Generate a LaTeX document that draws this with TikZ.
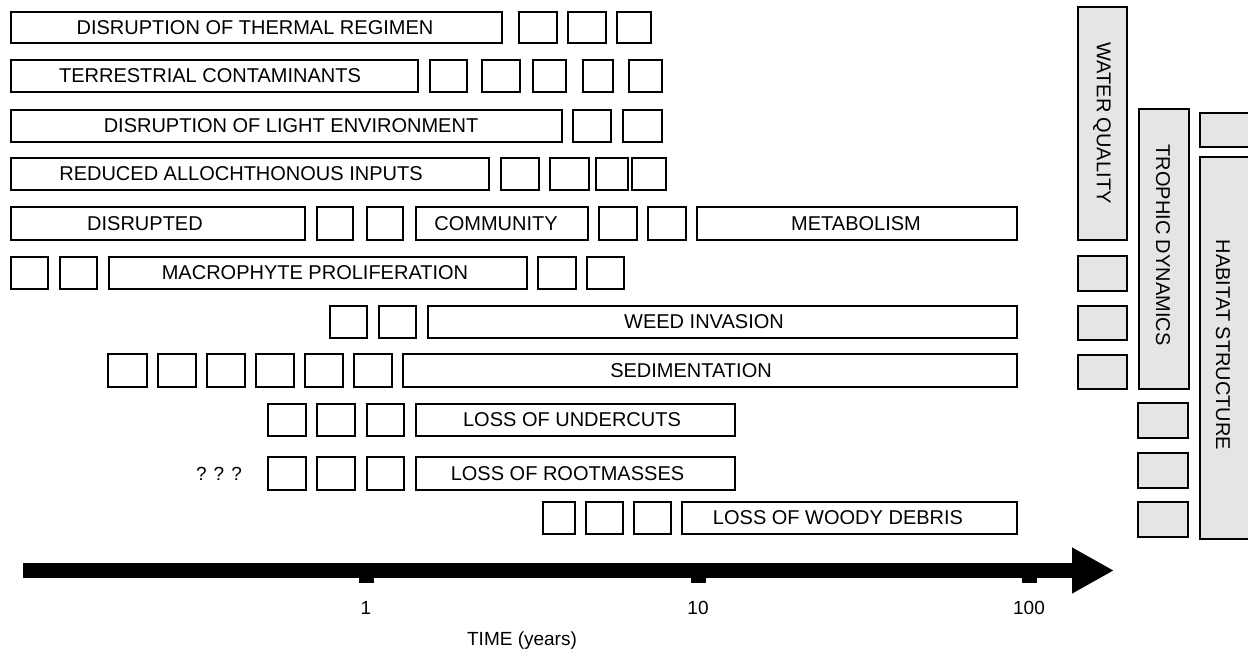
\documentclass[tikz,border=0pt]{standalone}
\usepackage{fontspec}
\setmainfont{Liberation Sans}
\usetikzlibrary{arrows.meta}

\begin{document}
\begin{tikzpicture}[x=1pt,y=-1pt,
    box/.style={draw=black,line width=1.4pt},
    gbox/.style={draw=black,fill=black!10,line width=1.8pt},
    lab/.style={font=\fontsize{20}{24}\selectfont,inner sep=0pt},
    vlab/.style={lab,rotate=-90}]
  \useasboundingbox (0,0) rectangle (1248,654);
  \clip (0,0) rectangle (1248,654);
  % row 1
  \draw[box] (11,12) rectangle (502,43);
  \node[lab] (thermal) at (255,27.5) {DISRUPTION OF THERMAL REGIMEN};
  \foreach \a/\b in {519/557,568/606,617/651} \draw[box] (\a,12) rectangle (\b,43);
  % row 2
  \draw[box] (11,60) rectangle (418,92);
  \node[lab] (contam) at (210,76) {TERRESTRIAL CONTAMINANTS};
  \foreach \a/\b in {430/467,482/520,533/566,583/613,629/662} \draw[box] (\a,60) rectangle (\b,92);
  % row 3
  \draw[box] (11,110) rectangle (562,142);
  \node[lab] (light) at (291,126) {DISRUPTION OF LIGHT ENVIRONMENT};
  \foreach \a/\b in {573/611,623/662} \draw[box] (\a,110) rectangle (\b,142);
  % row 4
  \draw[box] (11,158) rectangle (489,190);
  \node[lab] (inputs) at (241,174) {REDUCED ALLOCHTHONOUS INPUTS};
  \foreach \a/\b in {501/539,550/589,596/628,632/666} \draw[box] (\a,158) rectangle (\b,190);
  % row 5
  \draw[box] (11,207) rectangle (305,240);
  \node[lab] (disrupted) at (145,223.5) {DISRUPTED};
  \draw[box] (416,207) rectangle (588,240);
  \node[lab] (community) at (496,223.5) {COMMUNITY};
  \draw[box] (697,207) rectangle (1017,240);
  \node[lab] (metab) at (856,223.5) {METABOLISM};
  \foreach \a/\b in {317/353,367/403,599/637,648/686} \draw[box] (\a,207) rectangle (\b,240);
  % row 6
  \draw[box] (109,257) rectangle (527,289);
  \node[lab] (macro) at (315,273) {MACROPHYTE PROLIFERATION};
  \foreach \a/\b in {11/48,60/97,538/576,587/624} \draw[box] (\a,257) rectangle (\b,289);
  % row 7
  \draw[box] (428,306) rectangle (1017,338);
  \node[lab] (weed) at (704,322) {WEED INVASION};
  \foreach \a/\b in {330/367,379/416} \draw[box] (\a,306) rectangle (\b,338);
  % row 8
  \draw[box] (403,354) rectangle (1017,387);
  \node[lab] (sediment) at (691,370.5) {SEDIMENTATION};
  \foreach \a/\b in {108/147,158/196,207/245,256/294,305/343,354/392} \draw[box] (\a,354) rectangle (\b,387);
  % row 9
  \draw[box] (416,404) rectangle (735,436);
  \node[lab] (undercut) at (572,420) {LOSS OF UNDERCUTS};
  \foreach \a/\b in {268/306,317/355,367/404} \draw[box] (\a,404) rectangle (\b,436);
  % row 10
  \node[lab,font=\fontsize{19}{22}\selectfont] (unknown) at (219,473.5) {? ? ?};
  \draw[box] (416,457) rectangle (735,490);
  \node[lab] (roots) at (567.5,473.5) {LOSS OF ROOTMASSES};
  \foreach \a/\b in {268/306,317/355,367/404} \draw[box] (\a,457) rectangle (\b,490);
  % row 11
  \draw[box] (682,502) rectangle (1017,534);
  \node[lab] (woody) at (838,518) {LOSS OF WOODY DEBRIS};
  \foreach \a/\b in {543/575,586/623,634/671} \draw[box] (\a,502) rectangle (\b,534);

  % grouping columns
  \draw[gbox] (1078,7) rectangle (1127,240);
  \node[vlab] (water) at (1102,123) {WATER QUALITY};
  \foreach \a/\b in {256/291,306/340,355/389} \draw[gbox] (1078,\a) rectangle (1127,\b);
  \draw[gbox] (1139,109) rectangle (1189,389);
  \node[vlab] (trophic) at (1163,245) {TROPHIC DYNAMICS};
  \foreach \a/\b in {403/438,453/488,502/537} \draw[gbox] (1138,\a) rectangle (1188,\b);
  \draw[gbox] (1200,113) rectangle (1252,147);
  \draw[gbox] (1200,157) rectangle (1252,539);
  \node[vlab] (habitat) at (1223,345) {HABITAT STRUCTURE};

  % time axis
  \coordinate (tstart) at (23,570.5);
  \coordinate (tend) at (1114,570.5);
  \draw[line width=15pt,-{Triangle[length=42pt,width=43pt]}] (tstart) -- (tend);
  \foreach \x in {359,691,1022} \fill (\x,577) rectangle ++(15,6);
  \node[lab,font=\fontsize{19}{22}\selectfont] (one) at (366,608) {1};
  \node[lab,font=\fontsize{19}{22}\selectfont] (ten) at (698,608) {10};
  \node[lab,font=\fontsize{19}{22}\selectfont] (hundred) at (1029,608) {100};
  \node[lab,font=\fontsize{19}{22}\selectfont] (time) at (522,641) {TIME (years)};
\end{tikzpicture}
\end{document}
